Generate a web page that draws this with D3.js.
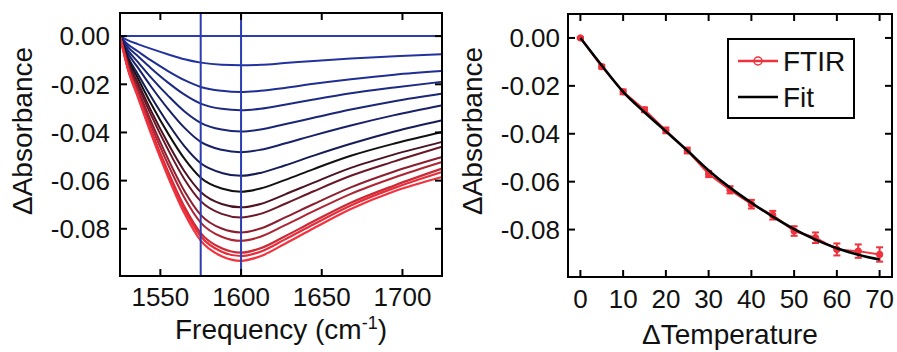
<!DOCTYPE html>
<html>
<head>
<meta charset="utf-8">
<script src="https://cdn.jsdelivr.net/npm/d3@7"></script>
<style>
  html, body { margin: 0; padding: 0; background: #fff; }
  svg { display: block; }
  text { font-family: "Liberation Sans", Arial, Helvetica, sans-serif; fill: #111; }
</style>
</head>
<body>
<svg id="chart" width="897" height="352"></svg>
<script>
// ---------------- Data ----------------
// Left panel: difference spectra (ΔAbsorbance) sampled at these frequencies (cm-1)
const frequencies = [1525, 1530, 1536, 1544, 1555, 1565, 1575, 1588, 1600, 1612, 1627, 1645, 1668, 1695, 1724];
const spec00 = [0, 0, 0, 0, 0, 0, 0, 0, 0, 0, 0, 0, 0, 0, 0];
const spec05 = [0, -0.0018, -0.0033, -0.0052, -0.0076, -0.0096, -0.0110, -0.0119, -0.0121, -0.0119, -0.0112, -0.0103, -0.0093, -0.0084, -0.0075];
const spec10 = [0, -0.0035, -0.0063, -0.0100, -0.0146, -0.0183, -0.0211, -0.0227, -0.0232, -0.0227, -0.0215, -0.0198, -0.0179, -0.0160, -0.0145];
const spec15 = [0, -0.0046, -0.0083, -0.0132, -0.0194, -0.0243, -0.0280, -0.0302, -0.0308, -0.0302, -0.0285, -0.0263, -0.0237, -0.0213, -0.0190];
const spec20 = [0, -0.0059, -0.0107, -0.0170, -0.0249, -0.0313, -0.0360, -0.0388, -0.0396, -0.0388, -0.0366, -0.0339, -0.0305, -0.0270, -0.0239];
const spec25 = [0, -0.0072, -0.0130, -0.0207, -0.0304, -0.0381, -0.0439, -0.0472, -0.0482, -0.0472, -0.0446, -0.0412, -0.0371, -0.0328, -0.0288];
const spec30 = [0, -0.0087, -0.0157, -0.0249, -0.0365, -0.0458, -0.0528, -0.0568, -0.0580, -0.0568, -0.0537, -0.0496, -0.0447, -0.0396, -0.0350];
const spec35 = [0, -0.0097, -0.0174, -0.0278, -0.0407, -0.0510, -0.0588, -0.0633, -0.0646, -0.0633, -0.0598, -0.0552, -0.0497, -0.0446, -0.0399];
const spec40 = [0, -0.0107, -0.0192, -0.0306, -0.0448, -0.0562, -0.0647, -0.0697, -0.0711, -0.0697, -0.0658, -0.0608, -0.0547, -0.0491, -0.0440];
const spec45 = [0, -0.0113, -0.0203, -0.0324, -0.0474, -0.0595, -0.0685, -0.0738, -0.0753, -0.0738, -0.0697, -0.0644, -0.0580, -0.0520, -0.0460];
const spec50 = [0, -0.0122, -0.0220, -0.0350, -0.0513, -0.0644, -0.0742, -0.0799, -0.0815, -0.0799, -0.0754, -0.0697, -0.0628, -0.0562, -0.0503];
const spec55 = [0, -0.0128, -0.0230, -0.0366, -0.0536, -0.0672, -0.0774, -0.0833, -0.0850, -0.0833, -0.0786, -0.0727, -0.0655, -0.0587, -0.0524];
const spec60 = [0, -0.0135, -0.0243, -0.0387, -0.0566, -0.0710, -0.0818, -0.0881, -0.0899, -0.0881, -0.0832, -0.0769, -0.0692, -0.0620, -0.0551];
const spec65 = [0, -0.0137, -0.0247, -0.0393, -0.0575, -0.0721, -0.0831, -0.0895, -0.0913, -0.0895, -0.0845, -0.0781, -0.0703, -0.0630, -0.0565];
const spec70 = [0, -0.0140, -0.0252, -0.0401, -0.0588, -0.0737, -0.0849, -0.0914, -0.0933, -0.0914, -0.0863, -0.0798, -0.0718, -0.0644, -0.0586];
const spectrumColors = ["#2a3db2", "#2233a0", "#1f2e92", "#1c2a84", "#1a2676", "#182168", "#161c55", "#111111",
                        "#4a1222", "#6a1828", "#8c1e2e", "#ad2433", "#cc2a37", "#e42e3a", "#f2323e"];
const markerFreqs = [1575, 1600];

const freqTicks = [1550, 1600, 1650, 1700];
const absTicks = [0, -0.02, -0.04, -0.06, -0.08];
const absTickLabels = ["0.00", "-0.02", "-0.04", "-0.06", "-0.08"];

// Right panel: absorbance change vs temperature change
const deltaT = [0, 5, 10, 15, 20, 25, 30, 35, 40, 45, 50, 55, 60, 65, 70];
const ftir = [0, -0.0120, -0.0225, -0.0300, -0.0386, -0.0470, -0.0568, -0.0634, -0.0694, -0.0740, -0.0806, -0.0834, -0.0883, -0.0890, -0.0904];
const ftirErr = [0.0004, 0.0008, 0.0010, 0.0010, 0.0012, 0.0012, 0.0013, 0.0015, 0.0018, 0.0018, 0.0020, 0.0022, 0.0025, 0.0028, 0.0030];
const fit = [0, -0.0115, -0.0225, -0.0310, -0.0390, -0.0470, -0.0553, -0.0625, -0.0688, -0.0746, -0.0798, -0.0842, -0.0878, -0.0905, -0.0925];
const tempTicks = [0, 10, 20, 30, 40, 50, 60, 70];
const legendLabels = ["FTIR", "Fit"];

// ---------------- Drawing ----------------
const svg = d3.select("#chart");
const tickLen = 7;
const tickFont = 26;
const labelFont = 28;

function frame(g, x0, y0, x1, y1) {
  g.append("rect").attr("x", x0).attr("y", y0).attr("width", x1 - x0).attr("height", y1 - y0)
    .attr("fill", "none").attr("stroke", "#000").attr("stroke-width", 2);
}

// ---- Left panel ----
const L = { x0: 120, x1: 442, y0: 13, y1: 276 };
const xL = d3.scaleLinear().domain([1525, 1724.5]).range([L.x0, L.x1]);
const yL = d3.scaleLinear().domain([0.0096, -0.0996]).range([L.y0, L.y1]);

const gL = svg.append("g");
gL.append("clipPath").attr("id", "clipL").append("rect")
  .attr("x", L.x0).attr("y", L.y0).attr("width", L.x1 - L.x0).attr("height", L.y1 - L.y0);

const spectra = [spec00, spec05, spec10, spec15, spec20, spec25, spec30, spec35,
                 spec40, spec45, spec50, spec55, spec60, spec65, spec70];
const lineL = d3.line().x((d, i) => xL(frequencies[i])).y(d => yL(d)).curve(d3.curveMonotoneX);

const curves = gL.append("g").attr("clip-path", "url(#clipL)");
spectra.forEach((s, k) => {
  curves.append("path").attr("d", lineL(s)).attr("fill", "none")
    .attr("stroke", spectrumColors[k]).attr("stroke-width", k >= 12 ? 2.2 : 2).attr("stroke-linejoin", "round");
});
// vertical marker lines
markerFreqs.forEach(f => {
  curves.append("line").attr("x1", xL(f)).attr("x2", xL(f)).attr("y1", L.y0).attr("y2", L.y1)
    .attr("stroke", "#2a3db2").attr("stroke-width", 2);
});
// redraw zero baseline on top
curves.append("path").attr("d", lineL(spec00)).attr("fill", "none").attr("stroke", spectrumColors[0]).attr("stroke-width", 2);

frame(gL, L.x0, L.y0, L.x1, L.y1);

// ticks left panel
freqTicks.forEach(t => {
  gL.append("line").attr("x1", xL(t)).attr("x2", xL(t)).attr("y1", L.y1).attr("y2", L.y1 - tickLen).attr("stroke", "#000").attr("stroke-width", 2);
  gL.append("line").attr("x1", xL(t)).attr("x2", xL(t)).attr("y1", L.y0).attr("y2", L.y0 + tickLen).attr("stroke", "#000").attr("stroke-width", 2);
  gL.append("text").attr("x", xL(t)).attr("y", 306).attr("text-anchor", "middle").attr("font-size", tickFont).text(String(t));
});
absTicks.forEach((t, i) => {
  gL.append("line").attr("x1", L.x0).attr("x2", L.x0 + tickLen).attr("y1", yL(t)).attr("y2", yL(t)).attr("stroke", "#000").attr("stroke-width", 2);
  gL.append("line").attr("x1", L.x1).attr("x2", L.x1 - tickLen).attr("y1", yL(t)).attr("y2", yL(t)).attr("stroke", "#000").attr("stroke-width", 2);
  gL.append("text").attr("x", 110).attr("y", yL(t)).attr("dy", "0.36em").attr("text-anchor", "end").attr("font-size", tickFont).text(absTickLabels[i]);
});
// axis labels left
gL.append("text").attr("transform", "translate(32,131) rotate(-90)").attr("text-anchor", "middle")
  .attr("font-size", labelFont).text("ΔAbsorbance");
const fl = gL.append("text").attr("x", 281).attr("y", 339).attr("text-anchor", "middle").attr("font-size", labelFont);
fl.append("tspan").text("Frequency (cm");
fl.append("tspan").attr("font-size", 18).attr("dy", -10).text("-1");
fl.append("tspan").attr("dy", 10).text(")");

// ---- Right panel ----
const R = { x0: 568, x1: 892, y0: 14, y1: 277 };
const xR = d3.scaleLinear().domain([-2.9, 72.9]).range([R.x0, R.x1]);
const yR = d3.scaleLinear().domain([0.01, -0.0998]).range([R.y0, R.y1]);
const gR = svg.append("g");

const ftirRed = "#f0323c";
const lineR = d3.line().x((d, i) => xR(deltaT[i])).y(d => yR(d));
gR.append("path").attr("d", lineR(ftir)).attr("fill", "none").attr("stroke", ftirRed).attr("stroke-width", 2);
// error bars
deltaT.forEach((t, i) => {
  const x = xR(t), ya = yR(ftir[i] + ftirErr[i]), yb = yR(ftir[i] - ftirErr[i]);
  gR.append("line").attr("x1", x).attr("x2", x).attr("y1", ya).attr("y2", yb).attr("stroke", ftirRed).attr("stroke-width", 2);
  [ya, yb].forEach(yy => gR.append("line").attr("x1", x - 3.5).attr("x2", x + 3.5).attr("y1", yy).attr("y2", yy).attr("stroke", ftirRed).attr("stroke-width", 2));
  gR.append("circle").attr("cx", x).attr("cy", yR(ftir[i])).attr("r", 3.2).attr("fill", ftirRed).attr("stroke", ftirRed).attr("stroke-width", 1);
});
gR.append("path").attr("d", lineR.curve(d3.curveMonotoneX)(fit)).attr("fill", "none").attr("stroke", "#000").attr("stroke-width", 2.6);

frame(gR, R.x0, R.y0, R.x1, R.y1);
tempTicks.forEach(t => {
  gR.append("line").attr("x1", xR(t)).attr("x2", xR(t)).attr("y1", R.y1).attr("y2", R.y1 - tickLen).attr("stroke", "#000").attr("stroke-width", 2);
  gR.append("line").attr("x1", xR(t)).attr("x2", xR(t)).attr("y1", R.y0).attr("y2", R.y0 + tickLen).attr("stroke", "#000").attr("stroke-width", 2);
  gR.append("text").attr("x", xR(t)).attr("y", 308).attr("text-anchor", "middle").attr("font-size", tickFont).text(String(t));
});
absTicks.forEach((t, i) => {
  gR.append("line").attr("x1", R.x0).attr("x2", R.x0 + tickLen).attr("y1", yR(t)).attr("y2", yR(t)).attr("stroke", "#000").attr("stroke-width", 2);
  gR.append("line").attr("x1", R.x1).attr("x2", R.x1 - tickLen).attr("y1", yR(t)).attr("y2", yR(t)).attr("stroke", "#000").attr("stroke-width", 2);
  gR.append("text").attr("x", 560).attr("y", yR(t)).attr("dy", "0.36em").attr("text-anchor", "end").attr("font-size", tickFont).text(absTickLabels[i]);
});
gR.append("text").attr("transform", "translate(482,131) rotate(-90)").attr("text-anchor", "middle")
  .attr("font-size", labelFont).text("ΔAbsorbance");
gR.append("text").attr("x", 730).attr("y", 344).attr("text-anchor", "middle").attr("font-size", labelFont).text("ΔTemperature");

// legend
const lg = gR.append("g");
lg.append("rect").attr("x", 728).attr("y", 39).attr("width", 126).attr("height", 79)
  .attr("fill", "#fff").attr("stroke", "#000").attr("stroke-width", 2);
lg.append("line").attr("x1", 738).attr("x2", 778).attr("y1", 61).attr("y2", 61).attr("stroke", ftirRed).attr("stroke-width", 2.4);
lg.append("circle").attr("cx", 758).attr("cy", 61).attr("r", 4).attr("fill", "none").attr("stroke", ftirRed).attr("stroke-width", 1.5);
lg.append("line").attr("x1", 738).attr("x2", 778).attr("y1", 97).attr("y2", 97).attr("stroke", "#000").attr("stroke-width", 2.6);
lg.append("text").attr("x", 783).attr("y", 61).attr("dy", "0.36em").attr("font-size", labelFont).text(legendLabels[0]);
lg.append("text").attr("x", 783).attr("y", 97).attr("dy", "0.36em").attr("font-size", labelFont).text(legendLabels[1]);
</script>
</body>
</html>
